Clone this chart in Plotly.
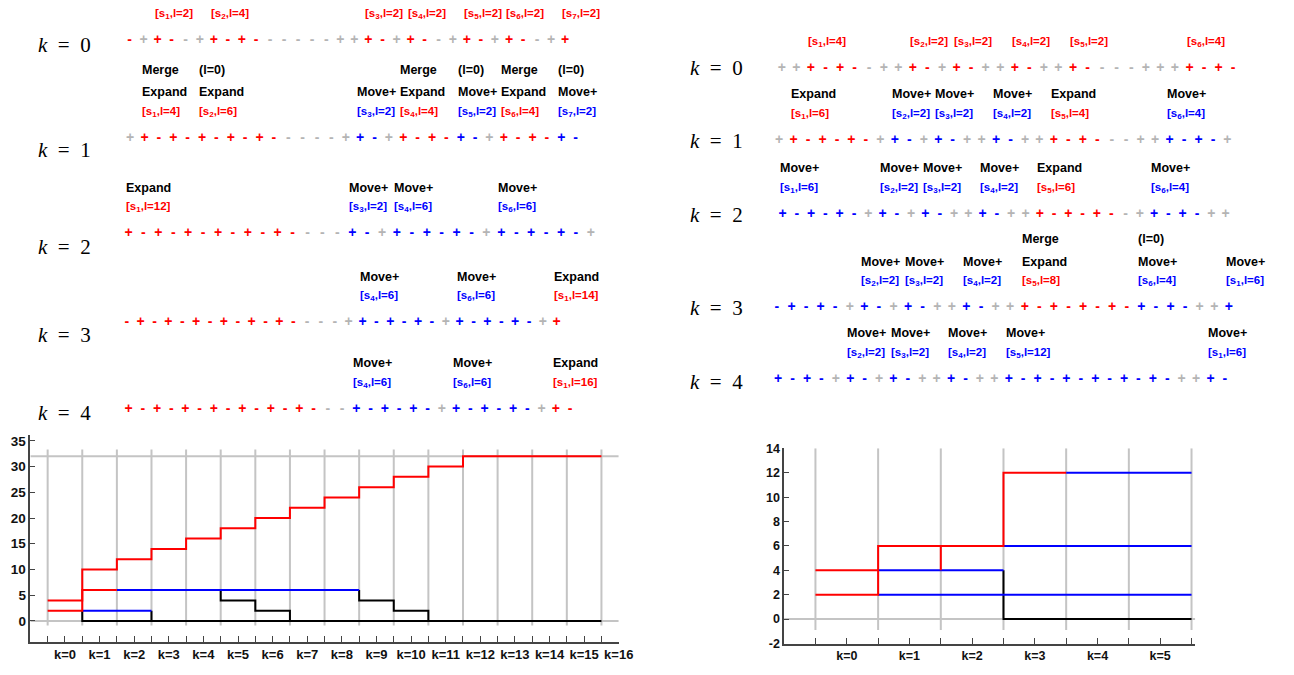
import plotly.graph_objects as go

W, H = 1294, 675

# ---------------- data: sign strings of the two sweep diagrams ----------------
LEFT_SIGNS = [
    "-++--++-+------+++-++--++-++--++",
    "++-+-+-+-+-----++-++-+-+-++-+-+-",
    "+-+-+-+-+-+----+-++-+-+-++-+-+-+",
    "-+-+-+-+-+-+----++-+-+-++-+-+-++",
    "+-+-+-+-+-+-+---+-+-+-++-+-+-++-",
]
LEFT_COLORS = [
    "rgrrggrrrrgggggggrrgrrggrrgrrggr",
    "grrrrrrrrrrgggggbbgrrrrbbgrrrrbb",
    "rrrrrrrrrrrrgggbbgbbbbbbgbbbbbbg",
    "rrrrrrrrrrrrrggggbbbbbbgbbbbbbgr",
    "rrrrrrrrrrrrrrggbbbbbbgbbbbbbgrr",
]
RIGHT_SIGNS = [
    "+++-+--+++-++-+++-+++----++++-+-",
    "++-+-+-++-++-+++-+++-+---+++-+-+",
    "+-+-+-++-++-+++-+++-+-+--++-+-++",
    "-+-+-++-++-+++-+++-+-+-+-+-+-+++",
    "+-+-++-++-+++-+++-+-+-+-+-+-+++-",
]
RIGHT_COLORS = [
    "ggrrrrgggrrgrrggrrggrrggggggrrrr",
    "grrrrrrgbbgbbggbbggrrrrggggbbbbg",
    "bbbbbbgbbgbbggbbggrrrrrrggbbbbgg",
    "bbbbbgbbgbbggbbggrrrrrrrrbbbbggb",
    "bbbbgbbgbbggbbggbbbbbbbbbbbbggbb",
]
K_VALUES = [0, 1, 2, 3, 4]

# segment labels: row, start symbol, top line, action line, segment id, length
LEFT_LBL_ROW = [0, 0, 0, 0, 0, 0, 0, 1, 1, 1, 1, 1, 1, 1, 2, 2, 2, 2, 3, 3, 3, 4, 4, 4]
LEFT_LBL_IDX = [2, 6, 17, 20, 24, 27, 31, 1, 5, 16, 19, 23, 26, 30, 0, 15, 18, 25, 17, 24, 31, 16, 23, 30]
LEFT_LBL_TOP = ["", "", "", "", "", "", "", "Merge", "(l=0)", "", "Merge", "(l=0)", "Merge", "(l=0)",
                "", "", "", "", "", "", "", "", "", ""]
LEFT_LBL_ACT = ["", "", "", "", "", "", "", "Expand", "Expand", "Move+", "Expand", "Move+", "Expand", "Move+",
                "Expand", "Move+", "Move+", "Move+", "Move+", "Move+", "Expand", "Move+", "Move+", "Expand"]
LEFT_LBL_SEG = [1, 2, 3, 4, 5, 6, 7, 1, 2, 3, 4, 5, 6, 7, 1, 3, 4, 6, 4, 6, 1, 4, 6, 1]
LEFT_LBL_LEN = [2, 4, 2, 2, 2, 2, 2, 4, 6, 2, 4, 2, 4, 2, 12, 2, 6, 6, 6, 6, 14, 6, 6, 16]

RIGHT_LBL_ROW = [0, 0, 0, 0, 0, 0, 1, 1, 1, 1, 1, 1, 2, 2, 2, 2, 2, 2, 3, 3, 3, 3, 3, 3, 4, 4, 4, 4, 4]
RIGHT_LBL_IDX = [2, 9, 12, 16, 20, 28, 1, 8, 11, 15, 19, 27, 0, 7, 10, 14, 18, 26, 6, 9, 13, 17, 25, 31,
                 5, 8, 12, 16, 30]
RIGHT_LBL_TOP = ["", "", "", "", "", "", "", "", "", "", "", "", "", "", "", "", "", "",
                 "", "", "", "Merge", "(l=0)", "", "", "", "", "", ""]
RIGHT_LBL_ACT = ["", "", "", "", "", "",
                 "Expand", "Move+", "Move+", "Move+", "Expand", "Move+",
                 "Move+", "Move+", "Move+", "Move+", "Expand", "Move+",
                 "Move+", "Move+", "Move+", "Expand", "Move+", "Move+",
                 "Move+", "Move+", "Move+", "Move+", "Move+"]
RIGHT_LBL_SEG = [1, 2, 3, 4, 5, 6, 1, 2, 3, 4, 5, 6, 1, 2, 3, 4, 5, 6, 2, 3, 4, 5, 6, 1, 2, 3, 4, 5, 1]
RIGHT_LBL_LEN = [4, 2, 2, 2, 2, 4, 6, 2, 2, 2, 4, 4, 6, 2, 2, 2, 6, 4, 2, 2, 2, 8, 4, 6, 2, 2, 2, 12, 6]

# ---------------- data: step charts ----------------
LEFT_K_TICKS = ["k=%d" % k for k in range(17)]
LEFT_Y_TICKS = [0, 5, 10, 15, 20, 25, 30, 35]
L_RED_TOP_X = [0, 1, 2, 3, 4, 5, 6, 7, 8, 9, 10, 11, 12, 16]
L_RED_TOP_Y = [4, 10, 12, 14, 16, 18, 20, 22, 24, 26, 28, 30, 32, 32]
L_RED_LOW_X = [0, 1, 2]
L_RED_LOW_Y = [2, 6, 6]
L_BLUE_A_X = [1, 3]
L_BLUE_A_Y = [2, 2]
L_BLUE_B_X = [2, 9]
L_BLUE_B_Y = [6, 6]
L_BLACK_A_X = [1, 1, 16]
L_BLACK_A_Y = [2, 0, 0]
L_BLACK_B_X = [3, 3]
L_BLACK_B_Y = [2, 0]
L_BLACK_C_X = [5, 6, 7, 7]
L_BLACK_C_Y = [6, 4, 2, 0]
L_BLACK_D_X = [9, 10, 11, 11]
L_BLACK_D_Y = [6, 4, 2, 0]
L_GRID_H = [0, 32]

RIGHT_K_TICKS = ["k=%d" % k for k in range(6)]
RIGHT_Y_TICKS = [-2, 0, 2, 4, 6, 8, 10, 12, 14]
R_RED_A_X = [0, 1]
R_RED_A_Y = [4, 4]
R_RED_B_X = [0, 1, 3, 4]
R_RED_B_Y = [2, 6, 12, 12]
R_RED_C_X = [2, 2]
R_RED_C_Y = [4, 6]
R_BLUE_A_X = [1, 3]
R_BLUE_A_Y = [4, 4]
R_BLUE_B_X = [1, 6]
R_BLUE_B_Y = [2, 2]
R_BLUE_C_X = [3, 6]
R_BLUE_C_Y = [6, 6]
R_BLUE_D_X = [4, 6]
R_BLUE_D_Y = [12, 12]
R_BLACK_X = [3, 6]
R_BLACK_Y = [4, 0]
R_GRID_H = [0]

# ---------------- layout / style constants ----------------
COLOR_MAP = {"r": "#ff0000", "g": "#b4b4b4", "b": "#0000ff"}
FONT = "Liberation Sans"
LEFT_ROW_Y = [34, 134, 231.5, 322.3, 410.7]
LEFT_ROW_X0 = [131, 131.7, 130, 128.3, 130]
LEFT_ROW_DX = [14.22, 14.54, 15.09, 14.03, 14.41]
RIGHT_ROW_Y = [62.3, 136, 211.7, 307.3, 380]
RIGHT_ROW_X0 = [791, 788.3, 791.7, 786, 787.3]
RIGHT_ROW_DX = [14.73, 14.63, 14.46, 14.75, 14.58]
LEFT_K_POS = (36, [39, 146, 245, 335, 415])
RIGHT_K_POS = (696, [62, 136.5, 212, 307, 382.5])

fig = go.Figure()


def sym_x(x0, dx, i):
    return x0 + i * dx


def add_panel(signs, colors, row_y, row_x0, row_dx, lrow, lidx, ltop, lact, lseg, llen, kpos):
    for r, (s, c) in enumerate(zip(signs, colors)):
        xs = [sym_x(row_x0[r], row_dx[r], i) for i in range(len(s))]
        fig.add_trace(go.Scatter(
            x=xs, y=[row_y[r]] * len(s), mode="text", text=list(s),
            textposition="middle center",
            textfont=dict(family=FONT, size=14, weight="bold",
                          color=[COLOR_MAP[ch] for ch in c]),
            xaxis="x3", yaxis="y3", showlegend=False, hoverinfo="skip"))
    for r, i, top, act, seg, ln in zip(lrow, lidx, ltop, lact, lseg, llen):
        x = sym_x(row_x0[r], row_dx[r], i) - 5
        y = row_y[r]
        col = COLOR_MAP[colors[r][i]]
        items = [(y - 27, "<b>[s<sub>%d</sub>,l=%d]</b>" % (seg, ln), col, 11.5)]
        if act:
            items.append((y - 47, "<b>%s</b>" % act, "#000000", 12.5))
        if top:
            items.append((y - 70, "<b>%s</b>" % top, "#000000", 12.5))
        for yy, txt, cc, fs in items:
            fig.add_annotation(x=x, y=yy, xref="x3", yref="y3", text=txt, showarrow=False,
                               xanchor="left", yanchor="middle",
                               font=dict(family=FONT, size=fs, color=cc))
    kx, kys = kpos
    for k, ky in zip(K_VALUES, kys):
        fig.add_annotation(x=kx, y=ky, xref="x3", yref="y3",
                           text="<i>k</i>&nbsp;&nbsp;=&nbsp;&nbsp;%d" % k, showarrow=False,
                           xanchor="left", yanchor="middle",
                           font=dict(family="Liberation Serif", size=21, color="#000000"))


add_panel(LEFT_SIGNS, LEFT_COLORS, LEFT_ROW_Y, LEFT_ROW_X0, LEFT_ROW_DX,
          LEFT_LBL_ROW, LEFT_LBL_IDX, LEFT_LBL_TOP, LEFT_LBL_ACT, LEFT_LBL_SEG, LEFT_LBL_LEN, LEFT_K_POS)
add_panel(RIGHT_SIGNS, RIGHT_COLORS, RIGHT_ROW_Y, RIGHT_ROW_X0, RIGHT_ROW_DX,
          RIGHT_LBL_ROW, RIGHT_LBL_IDX, RIGHT_LBL_TOP, RIGHT_LBL_ACT, RIGHT_LBL_SEG, RIGHT_LBL_LEN, RIGHT_K_POS)

GRID = dict(color="#c4c4c4", width=2)


def line(xs, ys, color, xa, ya, shape="linear"):
    fig.add_trace(go.Scatter(x=xs, y=ys, mode="lines", line=dict(color=color, width=2, shape=shape),
                             xaxis=xa, yaxis=ya, showlegend=False, hoverinfo="skip"))


def grid(n_cols, ylo, yhi, hvals, xlo, xhi, xa, ya):
    gx, gy = [], []
    for j in range(n_cols):
        gx += [j, j, None]
        gy += [ylo, yhi, None]
    for v in hvals:
        gx += [xlo, xhi, None]
        gy += [v, v, None]
    fig.add_trace(go.Scatter(x=gx, y=gy, mode="lines", line=GRID, xaxis=xa, yaxis=ya,
                             showlegend=False, hoverinfo="skip"))


# left step chart
grid(len(LEFT_K_TICKS), -0.9, 33.3, L_GRID_H, -0.5, 16.5, "x", "y")
line(L_BLACK_A_X, L_BLACK_A_Y, "#000000", "x", "y")
line(L_BLACK_B_X, L_BLACK_B_Y, "#000000", "x", "y")
line(L_BLACK_C_X, L_BLACK_C_Y, "#000000", "x", "y", "vh")
line(L_BLACK_D_X, L_BLACK_D_Y, "#000000", "x", "y", "vh")
line(L_BLUE_A_X, L_BLUE_A_Y, "#0000ff", "x", "y")
line(L_BLUE_B_X, L_BLUE_B_Y, "#0000ff", "x", "y")
line(L_RED_LOW_X, L_RED_LOW_Y, "#ff0000", "x", "y", "hv")
line(L_RED_TOP_X, L_RED_TOP_Y, "#ff0000", "x", "y", "hv")

# right step chart
grid(len(RIGHT_K_TICKS) + 1, -0.9, 14, R_GRID_H, -0.5, 6.06, "x2", "y2")
line(R_BLACK_X, R_BLACK_Y, "#000000", "x2", "y2", "vh")
line(R_BLUE_A_X, R_BLUE_A_Y, "#0000ff", "x2", "y2")
line(R_BLUE_B_X, R_BLUE_B_Y, "#0000ff", "x2", "y2")
line(R_BLUE_C_X, R_BLUE_C_Y, "#0000ff", "x2", "y2")
line(R_BLUE_D_X, R_BLUE_D_Y, "#0000ff", "x2", "y2")
line(R_RED_A_X, R_RED_A_Y, "#ff0000", "x2", "y2")
line(R_RED_C_X, R_RED_C_Y, "#ff0000", "x2", "y2")
line(R_RED_B_X, R_RED_B_Y, "#ff0000", "x2", "y2", "hv")

AX = dict(showline=True, linecolor="#444444", linewidth=1.5, ticks="inside", tickcolor="#444444",
          tickwidth=1.2, showgrid=False, zeroline=False, fixedrange=True)


def xaxis_cfg(domain, rng, labels, size):
    return dict(AX, domain=domain, range=rng, ticklen=6,
                tickvals=[k + 0.5 for k in range(len(labels))],
                ticktext=["<b>%s</b>" % t for t in labels],
                tickfont=dict(family=FONT, size=size, color="#111111"),
                minor=dict(tickvals=list(range(len(labels) + 1)), ticks="inside", ticklen=6,
                           tickcolor="#444444", tickwidth=1.2, showgrid=False))


def yaxis_cfg(domain, rng, vals, size):
    return dict(AX, domain=domain, range=rng, ticklen=5, tickvals=vals,
                ticktext=["<b>%d</b>" % v for v in vals],
                tickfont=dict(family=FONT, size=size, color="#111111"))


fig.update_layout(
    autosize=True, margin=dict(l=0, r=0, t=0, b=0),
    paper_bgcolor="white", plot_bgcolor="rgba(0,0,0,0)", showlegend=False,
    xaxis=dict(xaxis_cfg([30.7 / W, 626 / W], [-0.5, 16.5], LEFT_K_TICKS, 13), anchor="y"),
    yaxis=dict(yaxis_cfg([1 - 648 / H, 1 - 436.7 / H], [-4, 36.2], LEFT_Y_TICKS, 13.5), anchor="x"),
    xaxis2=dict(xaxis_cfg([793.3 / W, 1209.3 / W], [-0.5, 6.06], RIGHT_K_TICKS, 12.5), anchor="y2"),
    yaxis2=dict(yaxis_cfg([1 - 650 / H, 1 - 450.7 / H], [-2, 14], RIGHT_Y_TICKS, 12.5), anchor="x2"),
    xaxis3=dict(domain=[0, 1], range=[0, W], visible=False, fixedrange=True, anchor="y3"),
    yaxis3=dict(domain=[0, 1], range=[H, 0], visible=False, fixedrange=True, anchor="x3"),
)

fig.write_html("out.html", config={"displayModeBar": False, "responsive": True},
               default_width="100vw; position:fixed; left:0px; top:0px",
               default_height="100vh")
